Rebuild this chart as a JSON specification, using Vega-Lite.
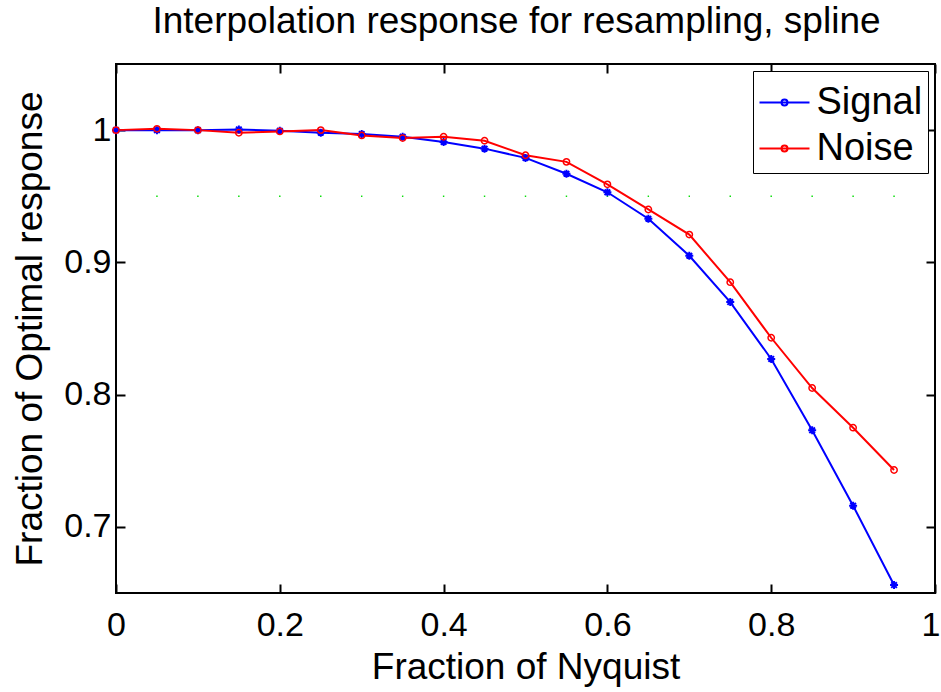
{
  "$schema": "https://vega.github.io/schema/vega-lite/v6.json",
  "width": 819,
  "height": 529,
  "autosize": {"type": "none"},
  "padding": {"left": 116, "top": 64, "right": 6, "bottom": 99},
  "background": "white",
  "title": {
    "text": "Interpolation response for resampling, spline",
    "font": "Liberation Sans",
    "fontSize": 37,
    "fontWeight": "normal",
    "color": "black",
    "offset": 22,
    "dx": -9
  },
  "config": {
    "view": {"stroke": "black", "strokeWidth": 2},
    "font": "Liberation Sans"
  },
  "datasets": {
    "curves": [
      {"x": 0.0, "series": "Signal", "value": 1.0},
      {"x": 0.05, "series": "Signal", "value": 1.0},
      {"x": 0.1, "series": "Signal", "value": 1.0},
      {"x": 0.15, "series": "Signal", "value": 1.0005},
      {"x": 0.2, "series": "Signal", "value": 0.9995},
      {"x": 0.25, "series": "Signal", "value": 0.998},
      {"x": 0.3, "series": "Signal", "value": 0.997},
      {"x": 0.35, "series": "Signal", "value": 0.995},
      {"x": 0.4, "series": "Signal", "value": 0.991},
      {"x": 0.45, "series": "Signal", "value": 0.986},
      {"x": 0.5, "series": "Signal", "value": 0.979},
      {"x": 0.55, "series": "Signal", "value": 0.967},
      {"x": 0.6, "series": "Signal", "value": 0.953},
      {"x": 0.65, "series": "Signal", "value": 0.933},
      {"x": 0.7, "series": "Signal", "value": 0.905},
      {"x": 0.75, "series": "Signal", "value": 0.870},
      {"x": 0.8, "series": "Signal", "value": 0.827},
      {"x": 0.85, "series": "Signal", "value": 0.773},
      {"x": 0.9, "series": "Signal", "value": 0.716},
      {"x": 0.95, "series": "Signal", "value": 0.656},
      {"x": 0.0, "series": "Noise", "value": 1.0},
      {"x": 0.05, "series": "Noise", "value": 1.001},
      {"x": 0.1, "series": "Noise", "value": 1.0},
      {"x": 0.15, "series": "Noise", "value": 0.998},
      {"x": 0.2, "series": "Noise", "value": 0.999},
      {"x": 0.25, "series": "Noise", "value": 1.0},
      {"x": 0.3, "series": "Noise", "value": 0.996},
      {"x": 0.35, "series": "Noise", "value": 0.994},
      {"x": 0.4, "series": "Noise", "value": 0.995},
      {"x": 0.45, "series": "Noise", "value": 0.992},
      {"x": 0.5, "series": "Noise", "value": 0.981},
      {"x": 0.55, "series": "Noise", "value": 0.976},
      {"x": 0.6, "series": "Noise", "value": 0.959},
      {"x": 0.65, "series": "Noise", "value": 0.940},
      {"x": 0.7, "series": "Noise", "value": 0.921},
      {"x": 0.75, "series": "Noise", "value": 0.885},
      {"x": 0.8, "series": "Noise", "value": 0.843},
      {"x": 0.85, "series": "Noise", "value": 0.805},
      {"x": 0.9, "series": "Noise", "value": 0.775},
      {"x": 0.95, "series": "Noise", "value": 0.743}
    ],
    "ref": [
      {"x": 0.05, "value": 0.95}, {"x": 0.1, "value": 0.95}, {"x": 0.15, "value": 0.95},
      {"x": 0.2, "value": 0.95}, {"x": 0.25, "value": 0.95}, {"x": 0.3, "value": 0.95},
      {"x": 0.35, "value": 0.95}, {"x": 0.4, "value": 0.95}, {"x": 0.45, "value": 0.95},
      {"x": 0.5, "value": 0.95}, {"x": 0.55, "value": 0.95}, {"x": 0.6, "value": 0.95},
      {"x": 0.65, "value": 0.95}, {"x": 0.7, "value": 0.95}, {"x": 0.75, "value": 0.95},
      {"x": 0.8, "value": 0.95}, {"x": 0.85, "value": 0.95}, {"x": 0.9, "value": 0.95},
      {"x": 0.95, "value": 0.95}
    ]
  },
  "layer": [
    {
      "data": {"name": "ref"},
      "mark": {"type": "square", "size": 2, "color": "#00dd00", "opacity": 1},
      "encoding": {
        "x": {
          "field": "x", "type": "quantitative",
          "scale": {"domain": [0, 1], "nice": false, "zero": false},
          "axis": {
            "orient": "top", "labels": false, "title": null, "grid": false, "domain": false,
            "values": [0, 0.2, 0.4, 0.6, 0.8, 1], "tickSize": -9, "tickColor": "black", "tickWidth": 2
          }
        },
        "y": {
          "field": "value", "type": "quantitative",
          "scale": {"domain": [0.65, 1.05], "nice": false, "zero": false},
          "axis": {
            "orient": "right", "labels": false, "title": null, "grid": false, "domain": false,
            "values": [0.7, 0.8, 0.9, 1], "tickSize": -9, "tickColor": "black", "tickWidth": 2
          }
        }
      }
    },
    {
      "data": {"name": "curves"},
      "mark": {"type": "line", "strokeWidth": 2},
      "encoding": {
        "x": {
          "field": "x", "type": "quantitative",
          "axis": {
            "orient": "bottom", "title": "Fraction of Nyquist", "grid": false, "domain": false,
            "values": [0, 0.2, 0.4, 0.6, 0.8, 1], "format": "~g", "labelFlush": false,
            "labelAlign": {"condition": {"test": "datum.value === 1", "value": "right"}, "value": "center"},
            "labelOffset": {"condition": {"test": "datum.value === 1", "value": 5}, "value": 0},
            "tickSize": -9, "tickColor": "black", "tickWidth": 2,
            "labelFontSize": 34, "labelColor": "black", "labelPadding": 24, "labelFont": "Liberation Sans",
            "titleFontSize": 37, "titleFontWeight": "normal", "titleColor": "black", "titlePadding": 7, "titleFont": "Liberation Sans"
          }
        },
        "y": {
          "field": "value", "type": "quantitative",
          "axis": {
            "orient": "left", "title": "Fraction of Optimal response", "grid": false, "domain": false,
            "values": [0.7, 0.8, 0.9, 1], "format": "~g", "labelFlush": false,
            "tickSize": -9, "tickColor": "black", "tickWidth": 2,
            "labelFontSize": 34, "labelColor": "black", "labelPadding": 14, "labelFont": "Liberation Sans",
            "titleFontSize": 37, "titleFontWeight": "normal", "titleColor": "black", "titlePadding": 14, "titleFont": "Liberation Sans"
          }
        },
        "color": {
          "field": "series", "type": "nominal",
          "scale": {"domain": ["Signal", "Noise"], "range": ["#0000ff", "#ff0000"]},
          "legend": {
            "orient": "top-right", "offset": 7, "title": null,
            "strokeColor": "black", "fillColor": "white", "padding": 5.5,
            "symbolType": "M-1,0H1M-0.12,0A0.12,0.12 0 1,1 0.12,0A0.12,0.12 0 1,1 -0.12,0Z",
            "symbolSize": 2500, "symbolStrokeWidth": 2,
            "labelFontSize": 38, "labelColor": "black", "labelFont": "Liberation Sans", "labelOffset": 6,
            "rowPadding": 1
          }
        }
      }
    },
    {
      "data": {"name": "curves"},
      "transform": [{"filter": "datum.series === 'Signal'"}],
      "mark": {
        "type": "point",
        "shape": "M-1,0H1M0,-1V1M-0.7,-0.7L0.7,0.7M-0.7,0.7L0.7,-0.7",
        "size": 64, "filled": false, "color": "#0000ff", "strokeWidth": 2, "opacity": 1
      },
      "encoding": {
        "x": {"field": "x", "type": "quantitative", "axis": null},
        "y": {"field": "value", "type": "quantitative", "axis": null}
      }
    },
    {
      "data": {"name": "curves"},
      "transform": [{"filter": "datum.series === 'Noise'"}],
      "mark": {
        "type": "point", "shape": "circle",
        "size": 40, "filled": false, "color": "#ff0000", "strokeWidth": 1.5, "opacity": 1
      },
      "encoding": {
        "x": {"field": "x", "type": "quantitative", "axis": null},
        "y": {"field": "value", "type": "quantitative", "axis": null}
      }
    }
  ],
  "resolve": {"axis": {"x": "independent", "y": "independent"}}
}
